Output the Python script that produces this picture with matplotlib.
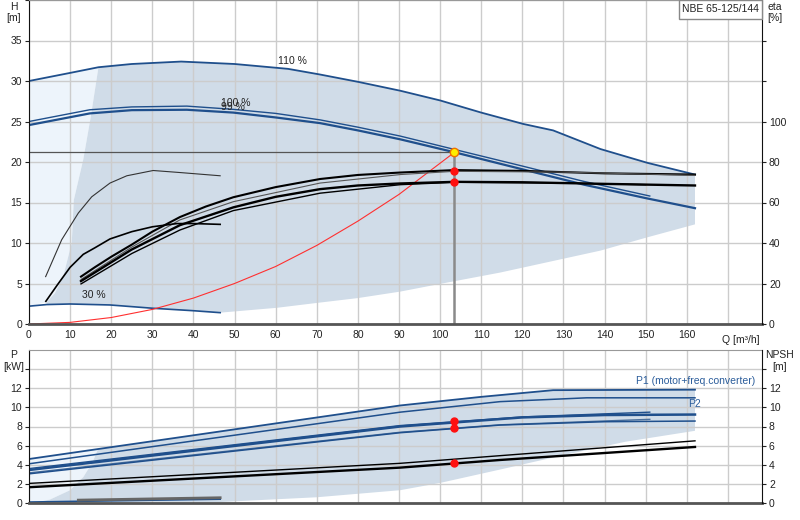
import matplotlib
matplotlib.use("Agg")
import matplotlib.pyplot as plt
from matplotlib.patches import Rectangle
from matplotlib.transforms import blended_transform_factory
import numpy as np

plt.rcParams['font.family'] = ['Liberation Sans', 'DejaVu Sans']
plt.rcParams['font.size'] = 7.5

# --- top panel: head curves (H in m) ---
q_110 = [0, 10, 16.9, 25, 37, 50, 63, 70.8, 80, 90.3, 100, 110, 120.2, 127.5, 139, 150.4, 162]
h_110 = [30.0, 31.0, 31.7, 32.1, 32.4, 32.1, 31.5, 30.8, 29.9, 28.8, 27.6, 26.1, 24.7, 23.9, 21.6, 19.9, 18.45]

q_100a = [0, 14.8, 25, 38.4, 49.7, 60, 70.8, 80, 90.3, 103.5, 120, 135, 151]
h_100a = [25.0, 26.45, 26.8, 26.9, 26.5, 26.0, 25.2, 24.3, 23.2, 21.55, 19.5, 17.6, 15.8]
q_100b = [0, 14.8, 25, 38.4, 49.7, 60, 70.8, 80, 90.3, 103.5, 120, 135, 150.4, 162]
h_100b = [24.56, 26.0, 26.4, 26.45, 26.1, 25.5, 24.8, 23.9, 22.8, 21.2, 19.1, 17.2, 15.5, 14.3]

q_30 = [0, 4.3, 10, 19.7, 30.2, 40, 46.5]
h_30 = [2.2, 2.4, 2.47, 2.35, 1.94, 1.64, 1.4]

# system curve
q_sys = [0, 10, 20, 30, 40, 50, 60, 70, 80, 90, 103.5]
h_sys = [0, 0.2, 0.8, 1.8, 3.2, 5.0, 7.1, 9.7, 12.7, 16.0, 21.2]

# operating point
q_op = 103.5
h_op = 21.2

# shading boundaries (top)
edge_q = [4.3, 6.3, 8.3, 10.4, 10.9, 13.2, 15.0, 16.9]
edge_h = [2.7, 3.8, 5.85, 10.0, 15.3, 20.3, 25.5, 31.7]
low_q = [162, 150.4, 139, 114.6, 100, 90.3, 80, 70, 60.3, 46.5]
low_h = [12.3, 10.7, 9.06, 6.35, 4.95, 4.0, 3.2, 2.6, 2.0, 1.4]

# --- efficiency curves (eta in %) ---
q_eta1 = [12.65, 16, 20, 25, 30, 36.7, 43, 49.7, 60, 70.8, 80, 90.3, 103.5, 120, 140, 162]
eta1 = [23.4, 28, 33.2, 39.2, 45.6, 52.8, 58, 62.6, 67.6, 71.6, 73.6, 74.8, 76.0, 75.6, 74.4, 73.8]
q_eta2 = [12.65, 25, 36.7, 49.7, 70.8, 90.3, 103.5, 130, 162]
eta2 = [22, 38, 51.4, 60.4, 69.6, 73.8, 75.4, 75, 73.4]
q_eta3 = [12.65, 25, 36.7, 49.7, 60, 70.8, 80, 90.3, 103.5, 120, 140, 162]
eta3 = [21.2, 36.8, 48.8, 57.6, 62.8, 66.6, 68.4, 69.4, 70.2, 70, 69.2, 68.4]
q_eta4 = [12.65, 25, 36.7, 49.7, 70.8, 90.3, 103.5, 130, 150]
eta4 = [19.8, 34.8, 46.4, 56, 64.6, 68.8, 70, 69.6, 68.8]
q_eta30a = [4.05, 7.95, 12, 15.25, 19.7, 23.8, 30.2, 36.7, 46.5]
eta30a = [23.4, 41.6, 54.8, 62.8, 69.6, 73.2, 75.8, 74.8, 73.2]
q_eta30b = [4.1, 7, 10, 13.2, 16, 19.7, 25, 30, 36, 40, 46.5]
eta30b = [11.2, 19.6, 28, 34.4, 37.6, 42, 45.6, 48, 49.6, 49.6, 49.2]
eta_op = [75.8, 70.2]

# --- bottom panel: power (kW) ---
q_p1_110 = [0, 90.3, 110, 127.5, 162]
p1_110 = [4.6, 10.2, 11.1, 11.8, 11.85]
q_p2_110 = [0, 90.3, 114.6, 135.7, 162]
p2_110 = [4.1, 9.5, 10.6, 11.0, 11.0]
q_p1a = [0, 90.3, 120, 151]
p1a = [3.6, 8.1, 9.0, 9.5]
q_p1b = [0, 90.3, 120, 140, 162]
p1b = [3.45, 8.0, 8.95, 9.2, 9.25]
q_p2a = [0, 90.3, 114.6, 151]
p2a = [3.15, 7.4, 8.18, 8.75]
q_p2b = [0, 90.3, 114.6, 140, 162]
p2b = [3.05, 7.35, 8.15, 8.5, 8.57]
q_p30 = [0, 46.5]
p30 = [0.1, 0.4]
p_op = [8.55, 7.8]

# NPSH (m)
q_npsh = [0, 90.3, 114.6, 162]
npsh1 = [2.05, 4.15, 4.95, 6.5]
npsh2 = [1.65, 3.7, 4.5, 5.86]
q_npsh30 = [12, 46.5]
npsh30 = [0.3, 0.55]
npsh_op = 4.15

# shading boundaries (bottom)
pedge_q = [1, 5.1, 10, 13.2, 15.5, 16.8]
pedge_p = [0, 0.36, 1.34, 2.7, 4.3, 5.65]
plow_q = [162, 145, 130, 114.6, 100, 90.3, 70, 46.5, 1]
plow_p = [7.55, 6.4, 5.0, 3.5, 2.1, 1.34, 0.6, 0.1, 0]

blue = '#1f4f8c'
dark_fill = '#d0dce8'
light_fill = '#edf4fb'
grid_c = '#cccccc'

fig = plt.figure(figsize=(8, 5.2), dpi=100)
ax = fig.add_axes([29 / 800, 1 - 324 / 520, 733 / 800, 324 / 520])
axb = fig.add_axes([29 / 800, 1 - 503 / 520, 733 / 800, 153 / 520])

xmax = 178.3
qticks = list(range(0, 180, 10))

# ---------- top panel ----------
# light area at the left
lq = [0] + [q for q in q_110 if q <= edge_q[-1]] + edge_q[::-1] + [0]
lh = [h_110[0]] + [h for q, h in zip(q_110, h_110) if q <= edge_q[-1]] + edge_h[::-1] + [h_30[0]]
ax.fill(lq, lh, color=light_fill, lw=0, zorder=0.2)

top_q = [q for q in q_110 if q > edge_q[-1]]
top_h = [h for q, h in zip(q_110, h_110) if q > edge_q[-1]]
b30_q = [q for q in q_30 if q >= edge_q[0]][::-1]
b30_h = [h for q, h in zip(q_30, h_30) if q >= edge_q[0]][::-1]
dq = edge_q + top_q + low_q + b30_q
dh = edge_h + top_h + low_h + b30_h
ax.fill(dq, dh, color=dark_fill, lw=0, zorder=0.3)

ax.plot(q_110, h_110, color=blue, lw=1.3)
ax.plot(q_100a, h_100a, color=blue, lw=1.0)
ax.plot(q_100b, h_100b, color=blue, lw=1.6)
ax.plot(q_30, h_30, color=blue, lw=1.2)
ax.plot(q_sys, h_sys, color='#ff3030', lw=0.8)
ax.plot([0, q_op], [h_op, h_op], color='#555555', lw=0.9)
ax.plot([q_op, q_op], [0, h_op], color='#8a8a8a', lw=1.8)

ax.text(60.5, 32.5, '110 %', ha='left', va='center', color='#222222')
ax.text(46.8, 27.3, '100 %', ha='left', va='center', color='#222222')
ax.text(46.8, 26.8, '99 %', ha='left', va='center', color='#222222')
ax.text(12.8, 3.55, '30 %', ha='left', va='center', color='#222222')

ax.set_xlim(0, xmax)
ax.set_ylim(0, 40)
ax.set_xticks(qticks)
ax.set_xticklabels([str(q) if q < 170 else '' for q in qticks])
ax.set_yticks(range(0, 45, 5))
ax.set_yticklabels([str(v) if v < 40 else '' for v in range(0, 45, 5)])
ax.set_axisbelow(True)
ax.grid(True, color=grid_c, lw=1.0)
ax.tick_params(direction='out', length=3, width=0.8, colors='#222222', labelsize=7.5, pad=2)
ax.tick_params(axis='x', length=0, pad=4)
ax.spines['left'].set_color('#111111')
ax.spines['bottom'].set_color('#555555')
ax.spines['bottom'].set_linewidth(2)
ax.spines['top'].set_color('#999999')
ax.spines['right'].set_visible(False)
ax.text(168.5, -1.4, 'Q [m³/h]', ha='left', va='top', color='#222222',
        transform=blended_transform_factory(ax.transData, ax.transData))

ax2 = ax.twinx()
ax2.set_ylim(0, 160)
ax2.plot(q_eta1, eta1, color='black', lw=1.5)
ax2.plot(q_eta2, eta2, color='#555555', lw=0.8)
ax2.plot(q_eta3, eta3, color='black', lw=1.7)
ax2.plot(q_eta4, eta4, color='black', lw=1.0)
ax2.plot(q_eta30a, eta30a, color='#333333', lw=0.8)
ax2.plot(q_eta30b, eta30b, color='black', lw=1.2)
ax2.plot([q_op, q_op], eta_op, 'o', color='#ff1010', ms=5, ls='none')
ax.plot([q_op], [h_op], 'o', mfc='#ffee00', mec='#f07000', ms=6, mew=1, zorder=5)
ax2.set_yticks(range(0, 160, 20))
ax2.set_yticklabels([str(v) if v <= 100 else '' for v in range(0, 160, 20)])
ax2.tick_params(direction='out', length=3, width=0.8, colors='#222222', labelsize=7.5, pad=2)
for s in ['left', 'top', 'bottom']:
    ax2.spines[s].set_visible(False)
ax2.spines['right'].set_color('#111111')

# ---------- bottom panel ----------
bl_q = [0] + [q for q in q_p1_110 if q <= pedge_q[-1]] + pedge_q[::-1] + [0]
bl_p = [p1_110[0]] + [p for q, p in zip(q_p1_110, p1_110) if q <= pedge_q[-1]] + pedge_p[::-1] + [0]
axb.fill(bl_q, bl_p, color=light_fill, lw=0, zorder=0.2)
bt_q = [q for q in q_p1_110 if q > pedge_q[-1]]
bt_p = [p for q, p in zip(q_p1_110, p1_110) if q > pedge_q[-1]]
axb.fill(pedge_q + bt_q + plow_q, pedge_p + bt_p + plow_p, color=dark_fill, lw=0, zorder=0.3)

axb.plot(q_p1_110, p1_110, color=blue, lw=1.3)
axb.plot(q_p2_110, p2_110, color=blue, lw=1.1)
axb.plot(q_p1a, p1a, color=blue, lw=1.0)
axb.plot(q_p1b, p1b, color=blue, lw=1.8)
axb.plot(q_p2a, p2a, color='#4a6f9c', lw=1.0)
axb.plot(q_p2b, p2b, color=blue, lw=1.1)
axb.plot(q_p30, p30, color=blue, lw=1.2)
axb.plot([q_op, q_op], p_op, 'o', color='#ff1010', ms=5, ls='none', zorder=5)

axb.text(147.7, 12.75, 'P1 (motor+freq.converter)', ha='left', va='center', color='#2b5d9b')
axb.text(162.0, 10.35, 'P2', ha='center', va='center', color='#2b5d9b')

axb.set_xlim(0, xmax)
axb.set_ylim(0, 16)
axb.set_xticks(qticks)
axb.set_xticklabels([])
axb.set_yticks(range(0, 16, 2))
axb.set_yticklabels([str(v) if v <= 12 else '' for v in range(0, 16, 2)])
axb.set_axisbelow(True)
axb.grid(True, color=grid_c, lw=1.0)
axb.tick_params(direction='out', length=3, width=0.8, colors='#222222', labelsize=7.5, pad=2)
axb.tick_params(axis='x', length=0)
axb.spines['left'].set_color('#111111')
axb.spines['bottom'].set_color('#555555')
axb.spines['bottom'].set_linewidth(2)
axb.spines['top'].set_color('#999999')
axb.spines['right'].set_visible(False)

axb2 = axb.twinx()
axb2.set_ylim(0, 16)
axb2.plot(q_npsh, npsh1, color='black', lw=1.0)
axb2.plot(q_npsh, npsh2, color='black', lw=1.7)
axb2.plot(q_npsh30, npsh30, color='#666666', lw=2.0)
axb2.plot([q_op], [npsh_op], 'o', color='#ff1010', ms=5, zorder=5)
axb2.set_yticks(range(0, 16, 2))
axb2.set_yticklabels([str(v) if v <= 12 else '' for v in range(0, 16, 2)])
axb2.tick_params(direction='out', length=3, width=0.8, colors='#222222', labelsize=7.5, pad=2)
for s in ['left', 'top', 'bottom']:
    axb2.spines[s].set_visible(False)
axb2.spines['right'].set_color('#111111')

# axis titles
fig.text(14 / 800, 1 - 7 / 520, 'H', ha='center', va='center', color='#222222')
fig.text(14 / 800, 1 - 18 / 520, '[m]', ha='center', va='center', color='#222222')
fig.text(775 / 800, 1 - 7 / 520, 'eta', ha='center', va='center', color='#222222')
fig.text(775 / 800, 1 - 18 / 520, '[%]', ha='center', va='center', color='#222222')
fig.text(14 / 800, 1 - 355 / 520, 'P', ha='center', va='center', color='#222222')
fig.text(14 / 800, 1 - 367 / 520, '[kW]', ha='center', va='center', color='#222222')
fig.text(780 / 800, 1 - 355 / 520, 'NPSH', ha='center', va='center', color='#222222')
fig.text(780 / 800, 1 - 367 / 520, '[m]', ha='center', va='center', color='#222222')

# product label box
fig.patches.append(Rectangle((679 / 800, 1 - 19 / 520), 83 / 800, 19 / 520,
                             transform=fig.transFigure, facecolor='white',
                             edgecolor='#888888', lw=1.0, zorder=10))
fig.text(720.5 / 800, 1 - 9.5 / 520, 'NBE 65-125/144', ha='center', va='center',
         color='#222222', zorder=11)

fig.savefig('out.png', dpi=100)
